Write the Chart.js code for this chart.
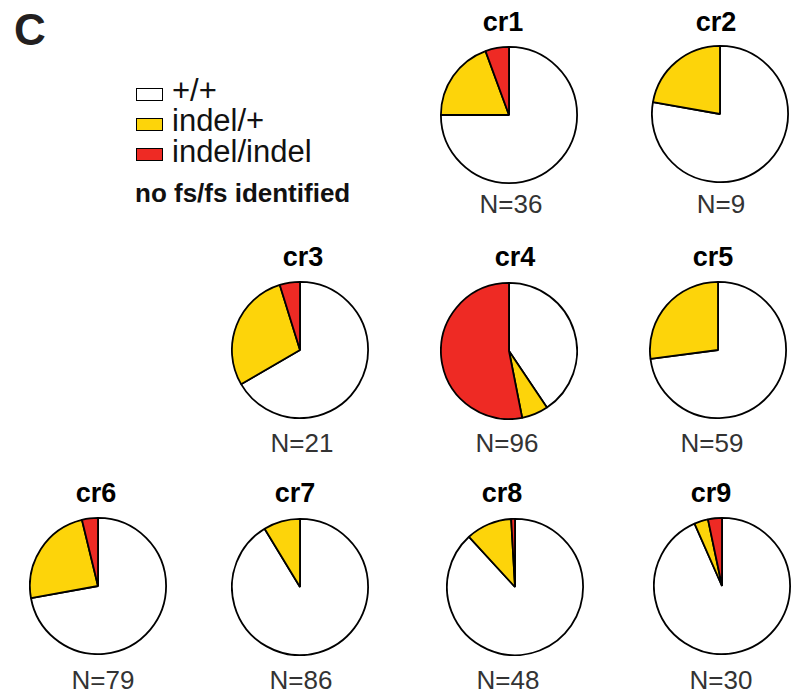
<!DOCTYPE html>
<html>
<head>
<meta charset="utf-8">
<script src="https://cdn.jsdelivr.net/npm/chart.js@4/dist/chart.umd.min.js"></script>
<style>
  html, body { margin: 0; padding: 0; background: #fff; }
  body { width: 799px; height: 698px; position: relative; overflow: hidden;
         font-family: "Liberation Sans", Arial, Helvetica, sans-serif; }
  .txt { position: absolute; white-space: nowrap; line-height: 1; }
  .ctr { width: 200px; text-align: center; }
  .pie { position: absolute; }
  .box { position: absolute; width: 25px; height: 11px; border: 1.6px solid #000; }
</style>
</head>
<body>
<script>
// ---- data ----
const categories = ['+/+', 'indel/+', 'indel/indel'];
const pieNames = ['cr1', 'cr2', 'cr3', 'cr4', 'cr5', 'cr6', 'cr7', 'cr8', 'cr9'];
const sampleSizes = [36, 9, 21, 96, 59, 79, 86, 48, 30];
// share of each genotype per pie (%)
const wildTypePct = [75.0, 77.8, 66.7, 40.6, 72.9, 72.2, 91.3, 88.2, 93.3];
const indelHetPct = [19.4, 22.2, 28.6, 6.3, 27.1, 24.1, 8.7, 10.9, 3.3];
const indelHomPct = [5.6, 0, 4.8, 53.1, 0, 3.8, 0, 0.9, 3.3];
const legendNote = 'no fs/fs identified';
const panelLetter = 'C';

// ---- layout / style ----
const colors = ['#FFFFFF', '#FDD40A', '#EE2A24'];
const pieCenters = [[509,115],[720,114],[300,350],[509,351],[718,350],[97.5,586],[299.5,587],[515,587],[722,586]];
const titlePos = [[503,32],[716,32],[303,267],[515,267],[713,267],[96,503],[295,503],[502,503],[711,503]];
const nPos = [[511,213],[721,213],[302,452],[507,452],[712,452],[103,689],[301,689],[508,689],[721,689]];
const PIE = 138;

function addText(str, cx, baseline, size, bold, color, centered) {
  const d = document.createElement('div');
  d.className = 'txt' + (centered ? ' ctr' : '');
  d.textContent = str;
  d.style.fontSize = size + 'px';
  d.style.fontWeight = bold ? 'bold' : 'normal';
  d.style.color = color;
  d.style.top = (baseline - 0.8465 * size) + 'px';
  d.style.left = (centered ? cx - 100 : cx) + 'px';
  document.body.appendChild(d);
}

// panel letter
addText(panelLetter, 14, 45, 44, true, '#231F20', false);

// legend
const legendTops = [88, 118, 148];
const legendBase = [101, 131.5, 162.5];
categories.forEach((c, i) => {
  const b = document.createElement('div');
  b.className = 'box';
  b.style.left = '136px';
  b.style.top = legendTops[i] + 'px';
  b.style.background = colors[i];
  document.body.appendChild(b);
  addText(c, 172, legendBase[i], 31, false, '#111', false);
});
addText(legendNote, 135, 202, 26, true, '#111', false);

// pies
pieNames.forEach((name, i) => {
  const cv = document.createElement('canvas');
  cv.className = 'pie';
  cv.width = PIE; cv.height = PIE;
  cv.style.left = (pieCenters[i][0] - PIE / 2) + 'px';
  cv.style.top = (pieCenters[i][1] - PIE / 2) + 'px';
  document.body.appendChild(cv);
  new Chart(cv, {
    type: 'pie',
    data: {
      labels: categories,
      datasets: [{
        data: [wildTypePct[i], indelHetPct[i], indelHomPct[i]],
        backgroundColor: colors,
        borderColor: '#000',
        borderWidth: 1.8
      }]
    },
    options: {
      responsive: false,
      devicePixelRatio: 1,
      animation: false,
      layout: { padding: 0 },
      plugins: { legend: { display: false }, tooltip: { enabled: false }, title: { display: false } }
    }
  });
  addText(name, titlePos[i][0], titlePos[i][1], 27, true, '#000', true);
  addText('N=' + sampleSizes[i], nPos[i][0], nPos[i][1], 26, false, '#333', true);
});
</script>
</body>
</html>
